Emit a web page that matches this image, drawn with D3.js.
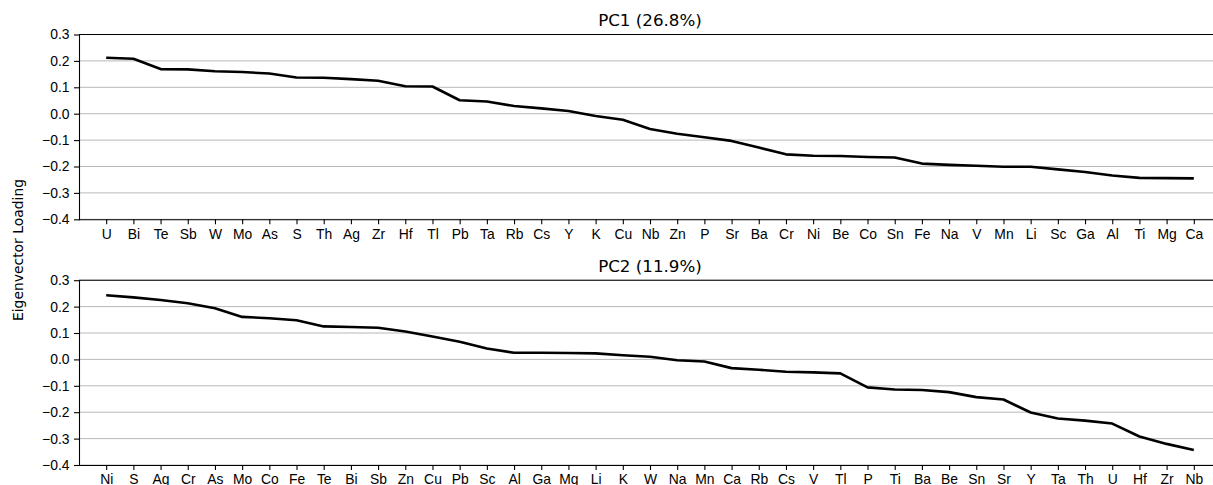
<!DOCTYPE html>
<html>
<head>
<meta charset="utf-8">
<script src="https://cdn.jsdelivr.net/npm/d3@7"></script>
<style>
  body { margin: 0; background: #fff; }
  svg { display: block; font-family: "DejaVu Sans", sans-serif; }
  .grid line { stroke: #b8b8b8; stroke-width: 1; }
  .axis text { font-size: 13.9px; fill: #000; }
  .axis line, .axis path { stroke: #000; stroke-width: 1.1; }
</style>
</head>
<body>
<svg id="chart" width="1213" height="485"></svg>
<script>
// PC1 loadings, sorted
var pc1Labels = ["U", "Bi", "Te", "Sb", "W", "Mo", "As", "S", "Th", "Ag", "Zr", "Hf", "Tl", "Pb", "Ta", "Rb", "Cs", "Y", "K", "Cu",
  "Nb", "Zn", "P", "Sr", "Ba", "Cr", "Ni", "Be", "Co", "Sn", "Fe", "Na", "V", "Mn", "Li", "Sc", "Ga", "Al", "Ti", "Mg", "Ca"];
var pc1Values = [0.212, 0.208, 0.169, 0.168, 0.161, 0.158, 0.152, 0.137, 0.136, 0.131, 0.125, 0.104, 0.103, 0.051, 0.046, 0.029, 0.020, 0.010, -0.009, -0.023,
  -0.058, -0.076, -0.089, -0.103, -0.128, -0.154, -0.159, -0.160, -0.164, -0.166, -0.189, -0.194, -0.197, -0.201, -0.201, -0.211, -0.221, -0.234, -0.243, -0.244, -0.245];

// PC2 loadings, sorted
var pc2Labels = ["Ni", "S", "Ag", "Cr", "As", "Mo", "Co", "Fe", "Te", "Bi", "Sb", "Zn", "Cu", "Pb", "Sc", "Al", "Ga", "Mg", "Li", "K",
  "W", "Na", "Mn", "Ca", "Rb", "Cs", "V", "Tl", "P", "Ti", "Ba", "Be", "Sn", "Sr", "Y", "Ta", "Th", "U", "Hf", "Zr", "Nb"];
var pc2Values = [0.243, 0.235, 0.225, 0.213, 0.194, 0.161, 0.156, 0.148, 0.125, 0.123, 0.120, 0.106, 0.087, 0.067, 0.041, 0.025, 0.025, 0.024, 0.023, 0.016,
  0.010, -0.003, -0.008, -0.033, -0.039, -0.047, -0.049, -0.053, -0.106, -0.114, -0.116, -0.124, -0.143, -0.152, -0.201, -0.224, -0.232, -0.243, -0.292, -0.320, -0.343];

var yTicks = [-0.4, -0.3, -0.2, -0.1, 0.0, 0.1, 0.2, 0.3];
var titles = ["PC1 (26.8%)", "PC2 (11.9%)"];

var svg = d3.select("#chart");
var left = 79, right = 1221;   // right edge falls outside the picture (cropped)

var panels = [
  { labels: pc1Labels, values: pc1Values, top: 34.5, bottom: 219.3, title: titles[0] },
  { labels: pc2Labels, values: pc2Values, top: 280.2, bottom: 465, title: titles[1] }
];

panels.forEach(function (p) {
  var x = d3.scalePoint().domain(p.labels).range([left, right]).padding(1);
  var y = d3.scaleLinear().domain([-0.4, 0.3]).range([p.bottom, p.top]);
  var g = svg.append("g");

  // horizontal grid
  g.append("g").attr("class", "grid")
    .selectAll("line").data(yTicks).join("line")
    .attr("x1", left).attr("x2", right)
    .attr("y1", function (d) { return y(d); })
    .attr("y2", function (d) { return y(d); });

  // loading line
  var line = d3.line()
    .x(function (d, i) { return x(p.labels[i]); })
    .y(function (d) { return y(d); });
  g.append("path").datum(p.values)
    .attr("d", line)
    .attr("fill", "none")
    .attr("stroke", "#000")
    .attr("stroke-width", 2.6)
    .attr("stroke-linejoin", "round");

  // axes
  g.append("g").attr("class", "axis")
    .attr("transform", "translate(0," + p.bottom + ")")
    .call(d3.axisBottom(x).tickSize(5).tickPadding(4.5).tickSizeOuter(0));
  g.append("g").attr("class", "axis")
    .attr("transform", "translate(" + left + ",0)")
    .call(d3.axisLeft(y).tickValues(yTicks).tickFormat(d3.format(".1f")).tickSize(5).tickPadding(4.5).tickSizeOuter(0));

  // top spine
  g.append("line")
    .attr("x1", left).attr("x2", right)
    .attr("y1", p.top).attr("y2", p.top)
    .attr("stroke", "#000").attr("stroke-width", 1.1);

  g.append("text")
    .attr("x", (left + right) / 2)
    .attr("y", p.top - 8.3)
    .attr("text-anchor", "middle")
    .attr("font-size", "16.7px")
    .text(p.title);
});

svg.selectAll(".axis .domain").attr("stroke-linecap", "square");

// shared y label
svg.append("text")
  .attr("transform", "translate(23.3,250) rotate(-90)")
  .attr("text-anchor", "middle")
  .attr("font-size", "13.9px")
  .text("Eigenvector Loading");
</script>
</body>
</html>
